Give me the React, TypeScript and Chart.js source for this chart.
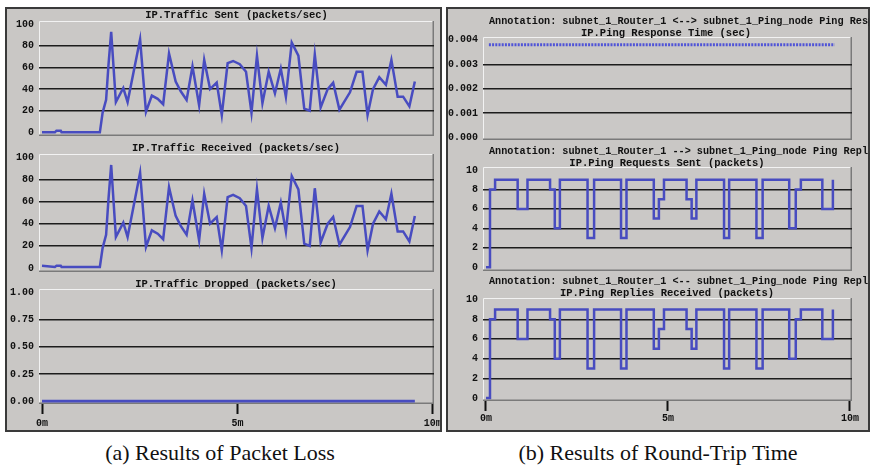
import React, { useEffect, useRef } from 'react';
import { Chart, registerables } from 'chart.js';

Chart.register(...registerables);

// ---------------- Data ----------------
const trafficTimes = [0, 0.33, 0.37, 0.48, 0.5, 1.48, 1.55, 1.64, 1.7, 1.77, 1.89, 2.08, 2.19, 2.51, 2.66, 2.81, 2.96, 3.1, 3.25, 3.42, 3.55, 3.7, 3.85, 4.02, 4.15, 4.3, 4.47, 4.6, 4.75, 4.89, 5.06, 5.22, 5.36, 5.5, 5.64, 5.8, 5.96, 6.11, 6.24, 6.39, 6.56, 6.71, 6.85, 6.98, 7.13, 7.31, 7.45, 7.61, 7.88, 8.05, 8.2, 8.33, 8.47, 8.63, 8.8, 8.94, 9.1, 9.24, 9.4, 9.54];
const trafficSent = [0, 0, 1.5, 1.5, 0, 0, 18, 30, 62, 93, 28, 41, 28, 86, 19, 34, 31, 26, 73, 47, 38, 30, 61, 25, 67, 40, 46, 16, 64, 66, 63, 56, 18, 71, 27, 56, 36, 59, 33, 83, 71, 22, 20, 72, 23, 40, 46, 21, 37, 56, 56, 16, 40, 51, 44, 67, 33, 33, 24, 47];
const trafficReceived = [2, 1, 2, 2, 1, 1, 18, 30, 62, 93, 28, 41, 28, 86, 19, 34, 31, 26, 73, 47, 38, 30, 61, 25, 67, 40, 46, 16, 64, 66, 63, 56, 18, 71, 27, 56, 36, 59, 33, 83, 71, 22, 20, 72, 23, 40, 46, 21, 37, 56, 56, 16, 40, 51, 44, 67, 33, 33, 24, 47];
const droppedTimes = [0, 9.54];
const trafficDropped = [0, 0];
const responseTimes = [0.08, 9.58];
const pingResponseTime = [0.0038, 0.0038];
const pingStepTimes = [0, 0.11, 0.25, 0.87, 1.14, 1.76, 1.89, 2.03, 2.79, 2.97, 3.71, 3.86, 4.61, 4.75, 4.89, 5.51, 5.65, 5.78, 6.54, 6.68, 7.43, 7.6, 8.33, 8.51, 8.65, 9.24, 9.53];
const pingRequestsSent = [0, 8, 9, 6, 9, 8, 4, 9, 3, 9, 3, 9, 5, 7, 9, 7, 5, 9, 3, 9, 3, 9, 4, 8, 9, 6, 9];
const pingRepliesReceived = [0, 8, 9, 6, 9, 8, 4, 9, 3, 9, 3, 9, 5, 7, 9, 7, 5, 9, 3, 9, 3, 9, 4, 8, 9, 6, 9];

const trafficTicks = [0, 20, 40, 60, 80, 100];
const droppedTicks = [0, 0.25, 0.5, 0.75, 1];
const responseTicks = [0, 0.001, 0.002, 0.003, 0.004];
const pingTicks = [0, 2, 4, 6, 8, 10];
const timeTicks = [0, 5, 10];

const BLUE = 'rgb(72,76,192)';
const PLOT_BG = '#cac8c6';
const FRAME_BG = '#c9c7c5';
const MONO = "'Liberation Mono', 'DejaVu Sans Mono', monospace";

const plotBg = {
  id: 'plotBg',
  beforeDraw(chart: any) {
    const { ctx, chartArea: a } = chart;
    ctx.save();
    ctx.fillStyle = PLOT_BG;
    ctx.fillRect(a.left, a.top, a.right - a.left, a.bottom - a.top);
    ctx.lineWidth = 1;
    ctx.strokeStyle = '#f2f2f2';
    ctx.beginPath();
    ctx.moveTo(a.left + 0.5, a.bottom);
    ctx.lineTo(a.left + 0.5, a.top + 0.5);
    ctx.lineTo(a.right, a.top + 0.5);
    ctx.stroke();
    ctx.strokeStyle = '#7a7a7a';
    ctx.lineWidth = 1.5;
    ctx.beginPath();
    ctx.moveTo(a.right - 0.75, a.top);
    ctx.lineTo(a.right - 0.75, a.bottom - 0.75);
    ctx.lineTo(a.left, a.bottom - 0.75);
    ctx.stroke();
    ctx.restore();
  },
};

type Spec = {
  canvas: { l: number; t: number; w: number; h: number };
  area: { l: number; t: number; r: number; b: number };
  yMin: number; yMax: number; yTicks: number[]; yFmt: (v: number) => string;
  xMin: number; xMax: number; showX: boolean; xPad: number;
  datasets: any[];
};

const pts = (xs: number[], ys: number[]) => xs.map((x, i) => ({ x, y: ys[i] }));

const lineDs = (xs: number[], ys: number[], extra: any = {}) => ({
  data: pts(xs, ys),
  borderColor: BLUE,
  borderWidth: 2.5,
  pointRadius: 0,
  fill: false,
  tension: 0,
  ...extra,
});

const LC = { l: 7, w: 433 };
const RC = { l: 448, w: 420 };

const specs: Spec[] = [
  {
    canvas: { l: LC.l, t: 15, w: LC.w, h: 127 },
    area: { l: 39, t: 21, r: 434, b: 136 },
    yMin: -3.4, yMax: 103, yTicks: trafficTicks, yFmt: (v) => String(v),
    xMin: -0.077, xMax: 10.03, showX: false, xPad: 0,
    datasets: [lineDs(trafficTimes, trafficSent)],
  },
  {
    canvas: { l: LC.l, t: 148, w: LC.w, h: 130 },
    area: { l: 39, t: 154, r: 434, b: 272 },
    yMin: -3.6, yMax: 102.9, yTicks: trafficTicks, yFmt: (v) => String(v),
    xMin: -0.077, xMax: 10.03, showX: false, xPad: 0,
    datasets: [lineDs(trafficTimes, trafficReceived)],
  },
  {
    canvas: { l: LC.l, t: 283, w: LC.w, h: 147 },
    area: { l: 39, t: 289, r: 434, b: 404 },
    yMin: -0.026, yMax: 1.034, yTicks: droppedTicks, yFmt: (v) => v.toFixed(2),
    xMin: -0.077, xMax: 10.03, showX: true, xPad: 3,
    datasets: [lineDs(droppedTimes, trafficDropped, { borderWidth: 2.8 })],
  },
  {
    canvas: { l: RC.l, t: 31, w: RC.w, h: 115 },
    area: { l: 483, t: 37, r: 852, b: 140 },
    yMin: -0.0001, yMax: 0.00412, yTicks: responseTicks, yFmt: (v) => v.toFixed(3),
    xMin: -0.082, xMax: 10.055, showX: false, xPad: 0,
    datasets: [lineDs(responseTimes, pingResponseTime, { borderWidth: 3, borderDash: [2, 1.2], borderColor: 'rgb(80,84,215)' })],
  },
  {
    canvas: { l: RC.l, t: 161, w: RC.w, h: 116 },
    area: { l: 483, t: 167, r: 852, b: 271 },
    yMin: -0.39, yMax: 10.31, yTicks: pingTicks, yFmt: (v) => String(v),
    xMin: -0.082, xMax: 10.055, showX: false, xPad: 0,
    datasets: [lineDs(pingStepTimes, pingRequestsSent, { stepped: 'before' })],
  },
  {
    canvas: { l: RC.l, t: 292, w: RC.w, h: 138 },
    area: { l: 483, t: 298, r: 852, b: 401 },
    yMin: -0.3, yMax: 10.16, yTicks: pingTicks, yFmt: (v) => String(v),
    xMin: -0.082, xMax: 10.055, showX: true, xPad: 1,
    datasets: [lineDs(pingStepTimes, pingRepliesReceived, { stepped: 'before' })],
  },
];

function buildConfig(s: Spec): any {
  const yW = s.area.l - s.canvas.l;
  const xH = s.showX ? s.canvas.t + s.canvas.h - s.area.b : 0;
  const padTop = s.area.t - s.canvas.t;
  const padRight = s.canvas.l + s.canvas.w - s.area.r;
  const padBottom = s.showX ? 0 : s.canvas.t + s.canvas.h - s.area.b;
  const first = s.yTicks[0];
  const last = s.yTicks[s.yTicks.length - 1];
  return {
    type: 'line',
    data: { datasets: s.datasets },
    options: {
      animation: false,
      responsive: false,
      devicePixelRatio: 1,
      events: [],
      layout: { padding: { left: 0, top: padTop, right: padRight, bottom: padBottom } },
      plugins: { legend: { display: false }, tooltip: { enabled: false }, title: { display: false } },
      scales: {
        x: {
          type: 'linear',
          min: s.xMin,
          max: s.xMax,
          bounds: 'data',
          display: s.showX,
          afterBuildTicks: (scale: any) => {
            scale.ticks = timeTicks.map((v) => ({ value: v }));
          },
          afterFit: (scale: any) => {
            if (s.showX) scale.height = xH;
            scale.paddingLeft = 0;
            scale.paddingRight = 0;
          },
          ticks: {
            autoSkip: false,
            maxRotation: 0,
            padding: s.xPad,
            color: '#111',
            font: { family: MONO, size: 10, weight: 'bold' },
            callback: (v: any) => `${v}m`,
          },
          grid: {
            drawOnChartArea: false,
            drawTicks: true,
            tickLength: 10,
            tickColor: '#111',
            tickWidth: 2,
            color: '#111',
          },
          border: { display: false },
        },
        y: {
          type: 'linear',
          min: s.yMin,
          max: s.yMax,
          bounds: 'data',
          afterBuildTicks: (scale: any) => {
            scale.ticks = s.yTicks.map((v) => ({ value: v }));
          },
          afterFit: (scale: any) => {
            scale.width = yW;
            scale.paddingTop = 0;
            scale.paddingBottom = 0;
          },
          ticks: {
            autoSkip: false,
            padding: 5,
            color: '#111',
            font: { family: MONO, size: 10, weight: 'bold' },
            callback: (v: any) => s.yFmt(Number(v)),
          },
          grid: {
            drawTicks: false,
            lineWidth: 1.5,
            color: (ctx: any) => {
              const v = ctx.tick ? ctx.tick.value : null;
              return v === first || v === last ? 'rgba(0,0,0,0)' : '#1c1c1c';
            },
          },
          border: { display: false },
        },
      },
    },
    plugins: [plotBg],
  };
}

const centeredTitles = [
  { text: 'IP.Traffic Sent (packets/sec)', cx: 236.5, cy: 14 },
  { text: 'IP.Traffic Received (packets/sec)', cx: 236, cy: 147 },
  { text: 'IP.Traffic Dropped (packets/sec)', cx: 236, cy: 283 },
  { text: 'IP.Ping Response Time (sec)', cx: 666, cy: 32 },
  { text: 'IP.Ping Requests Sent (packets)', cx: 667, cy: 162 },
  { text: 'IP.Ping Replies Received (packets)', cx: 667, cy: 292 },
];

const annotations = [
  { text: 'Annotation: subnet_1_Router_1 <--> subnet_1_Ping_node Ping Resp', cy: 21 },
  { text: 'Annotation: subnet_1_Router_1 --> subnet_1_Ping_node Ping Repl', cy: 151 },
  { text: 'Annotation: subnet_1_Router_1 <-- subnet_1_Ping_node Ping Repl', cy: 281 },
];

export default function App() {
  const refs = useRef<(HTMLCanvasElement | null)[]>([]);

  useEffect(() => {
    const charts: Chart[] = [];
    specs.forEach((s, i) => {
      const c = refs.current[i];
      if (c) charts.push(new Chart(c, buildConfig(s)));
    });
    return () => charts.forEach((c) => c.destroy());
  }, []);

  const textBase: React.CSSProperties = {
    position: 'absolute',
    fontFamily: MONO,
    fontWeight: 'bold',
    fontSize: '10.5px',
    lineHeight: '12px',
    color: '#111',
    whiteSpace: 'pre',
  };

  return (
    <div style={{ position: 'absolute', left: 0, top: 0, width: 873, height: 466, background: '#fff', overflow: 'hidden' }}>
      <div style={{ position: 'absolute', left: 5, top: 7, width: 437, height: 425, boxSizing: 'border-box', border: '2px solid #3a3a3a', background: FRAME_BG }} />
      <div style={{ position: 'absolute', left: 446, top: 7, width: 424, height: 425, boxSizing: 'border-box', border: '2px solid #3a3a3a', background: FRAME_BG }} />
      {specs.map((s, i) => (
        <canvas
          key={i}
          ref={(el) => { refs.current[i] = el; }}
          width={s.canvas.w}
          height={s.canvas.h}
          style={{ position: 'absolute', left: s.canvas.l, top: s.canvas.t, width: s.canvas.w, height: s.canvas.h }}
        />
      ))}
      {centeredTitles.map((t, i) => (
        <div key={'t' + i} style={{ ...textBase, left: t.cx - 200, width: 400, textAlign: 'center', top: t.cy - 5 }}>
          {t.text}
        </div>
      ))}
      {annotations.map((a, i) => (
        <div key={'a' + i} style={{ ...textBase, fontSize: '10.2px', left: 489, width: 869 - 489, overflow: 'hidden', top: a.cy - 5 }}>
          {a.text}
        </div>
      ))}
      <div style={{ position: 'absolute', left: 20, width: 400, top: 442, textAlign: 'center', fontFamily: "'Liberation Serif', 'Times New Roman', serif", fontSize: '22px', lineHeight: '22px', color: '#111', whiteSpace: 'pre' }}>
        (a) Results of Packet Loss
      </div>
      <div style={{ position: 'absolute', left: 458, width: 400, top: 442, textAlign: 'center', fontFamily: "'Liberation Serif', 'Times New Roman', serif", fontSize: '22px', lineHeight: '22px', color: '#111', whiteSpace: 'pre' }}>
        (b) Results of Round-Trip Time
      </div>
    </div>
  );
}
